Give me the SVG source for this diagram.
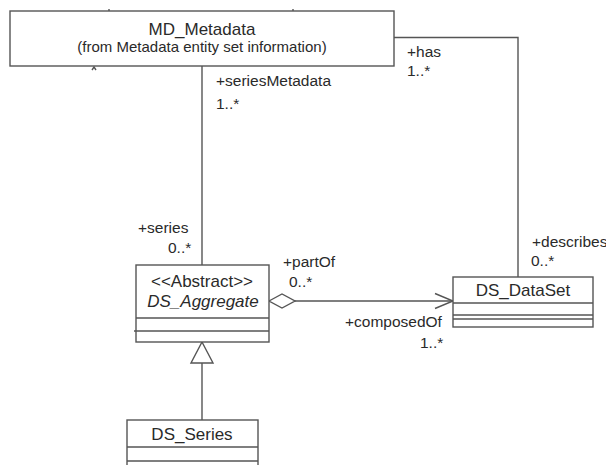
<svg xmlns="http://www.w3.org/2000/svg" width="606" height="465" viewBox="0 0 606 465">
<style>
.box{fill:#fff;stroke:#555;stroke-width:1.4}
.sep{stroke:#555;stroke-width:1.4;fill:none}
.ln{stroke:#555;stroke-width:1.4;fill:none}
.t{font-family:"Liberation Sans",Arial,sans-serif;fill:#2a2a2a}
.name{font-size:17px;text-anchor:middle}
.sub{font-size:15px;text-anchor:middle}
.lbl{font-size:15.5px}
</style>
<rect width="606" height="465" fill="#fff"/>
<g id="connectors">
  <path class="ln" d="M394,37.5 H518 V277"/>
  <path class="ln" d="M202,66 V265"/>
  <path class="ln" d="M295,301 H453"/>
  <path class="ln" d="M269,301 L282,294 L295,301 L282,308 Z" fill="#fff"/>
  <path class="ln" d="M435,293.5 L453,301 L435,308.5"/>
  <path class="ln" d="M202,363 V420"/>
  <path class="ln" d="M202,342 L213,363 H191 Z" fill="#fff"/>
  <path class="ln" d="M109,9 V11 M293,9 V11 M92,70 L94,67 L96,70" stroke-width="1"/>
</g>
<g id="labels">
  <text class="t lbl" x="216" y="86">+seriesMetadata</text>
  <text class="t lbl" x="216" y="109">1..*</text>
  <text class="t lbl" x="407" y="57">+has</text>
  <text class="t lbl" x="407" y="76">1..*</text>
  <text class="t lbl" x="138" y="233">+series</text>
  <text class="t lbl" x="168" y="253">0..*</text>
  <text class="t lbl" x="283" y="267">+partOf</text>
  <text class="t lbl" x="289" y="287">0..*</text>
  <text class="t lbl" x="532" y="247">+describes</text>
  <text class="t lbl" x="531" y="266">0..*</text>
  <text class="t lbl" x="345" y="327">+composedOf</text>
  <text class="t lbl" x="420" y="348">1..*</text>
</g>
<g id="MD_Metadata">
  <rect class="box" x="10" y="11" width="384" height="55"/>
  <text class="t name" x="202" y="35">MD_Metadata</text>
  <text class="t sub" x="202" y="52">(from Metadata entity set information)</text>
</g>
<g id="DS_Aggregate">
  <rect class="box" x="136" y="265" width="133" height="77"/>
  <path class="sep" d="M136,318 H269 M134,331 H269"/>
  <text class="t name" x="202" y="287">&lt;&lt;Abstract&gt;&gt;</text>
  <text class="t name" x="203" y="307" font-style="italic">DS_Aggregate</text>
</g>
<g id="DS_DataSet">
  <rect class="box" x="453" y="277" width="140" height="50"/>
  <path class="sep" d="M453,303 H593 M453,315 H593 M453,319 H593"/>
  <text class="t name" x="523" y="296">DS_DataSet</text>
</g>
<g id="DS_Series">
  <rect class="box" x="127" y="420" width="131" height="55"/>
  <path class="sep" d="M127,447 H258 M127,461 H258"/>
  <text class="t name" x="192" y="440">DS_Series</text>
</g>
</svg>
